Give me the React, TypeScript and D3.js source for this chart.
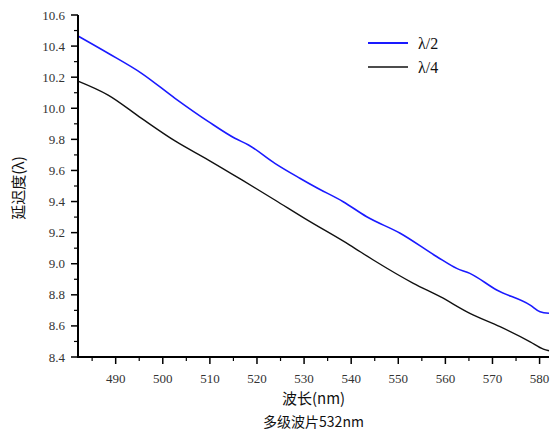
import React from "react";
import * as d3 from "d3";

const halfWaveX = [482, 488.4, 495.5, 502.6, 509.7, 515.3, 518.2, 523.8, 529.1, 532.3, 538.3, 543.3, 550.4, 558.2, 562.4, 565.2, 570.9, 578.0, 580.1, 582];
const halfWaveY = [10.465, 10.354, 10.225, 10.064, 9.914, 9.807, 9.764, 9.646, 9.55, 9.495, 9.399, 9.302, 9.196, 9.045, 8.97, 8.938, 8.831, 8.734, 8.691, 8.681];
const quarterWaveX = [482, 488.4, 495.5, 502.6, 509.7, 516.8, 523.8, 530.2, 539.7, 544.7, 553.2, 558.9, 565.2, 571.6, 578.0, 580.8, 582];
const quarterWaveY = [10.175, 10.085, 9.935, 9.79, 9.667, 9.539, 9.41, 9.29, 9.12, 9.024, 8.874, 8.788, 8.681, 8.595, 8.498, 8.451, 8.44];
const xTicks = [490, 500, 510, 520, 530, 540, 550, 560, 570, 580];
const yTicks = [8.4, 8.6, 8.8, 9.0, 9.2, 9.4, 9.6, 9.8, 10.0, 10.2, 10.4, 10.6];
const seriesNames = ["λ/2", "λ/4"];
const xTitle = "波长(nm)";
const subTitle = "多级波片532nm";
const yTitle = "延迟度(λ)";

export default function App() {
  const W = 550, H = 436;
  const left = 78, right = 549, top = 15, bottom = 357;
  const x = d3.scaleLinear().domain([482, 582]).range([left, right]);
  const y = d3.scaleLinear().domain([8.4, 10.6]).range([bottom, top]);
  const line = d3.line<[number, number]>().x(d => x(d[0])).y(d => y(d[1])).curve(d3.curveMonotoneX);
  const s1 = halfWaveX.map((v, i) => [v, halfWaveY[i]] as [number, number]);
  const s2 = quarterWaveX.map((v, i) => [v, quarterWaveY[i]] as [number, number]);
  const xMinor = d3.range(485, 582, 10);
  const yMinor = d3.range(8.5, 10.6, 0.2);
  const serif = "Liberation Serif, DejaVu Serif, Times New Roman, serif";
  const cjk = "Noto Sans CJK SC, sans-serif";
  return (
    <svg width={W} height={H} style={{ position: "absolute", left: 0, top: 0, background: "#fff" }}>
      <rect width={W} height={H} fill="#fff" />
      <path d={line(s1) || ""} fill="none" stroke="#1a1aff" strokeWidth={1.6} />
      <path d={line(s2) || ""} fill="none" stroke="#111" strokeWidth={1.4} />
      <line x1={left} x2={left} y1={top} y2={bottom + 0.5} stroke="#000" strokeWidth={2} />
      <line x1={left - 1} x2={right} y1={bottom} y2={bottom} stroke="#000" strokeWidth={2} />
      {yTicks.map(t => (
        <g key={"yt" + t}>
          <line x1={left - 7} x2={left} y1={y(t)} y2={y(t)} stroke="#000" strokeWidth={1.5} />
          <text x={left - 13} y={y(t)} dy="0.35em" textAnchor="end" fontSize={13} fontFamily={serif} fill="#333">
            {t.toFixed(1)}
          </text>
        </g>
      ))}
      {yMinor.map(t => (
        <line key={"ym" + t} x1={left - 4} x2={left} y1={y(t)} y2={y(t)} stroke="#000" strokeWidth={1.2} />
      ))}
      {xTicks.map(t => (
        <g key={"xt" + t}>
          <line x1={x(t)} x2={x(t)} y1={bottom} y2={bottom + 7} stroke="#000" strokeWidth={1.5} />
          <text x={x(t)} y={bottom + 21} dy="0.35em" textAnchor="middle" fontSize={13} fontFamily={serif} fill="#333">
            {t}
          </text>
        </g>
      ))}
      {xMinor.map(t => (
        <line key={"xm" + t} x1={x(t)} x2={x(t)} y1={bottom} y2={bottom + 4} stroke="#000" strokeWidth={1.2} />
      ))}
      <text x={(left + right) / 2} y={399} dy="0.35em" textAnchor="middle" fontSize={15} fontFamily={cjk} fill="#111">
        {xTitle}
      </text>
      <text x={(left + right) / 2} y={422} dy="0.35em" textAnchor="middle" fontSize={14} fontFamily={cjk} fill="#111">
        {subTitle}
      </text>
      <text transform={`translate(19,${(top + bottom) / 2 + 2}) rotate(-90)`} dy="0.35em" textAnchor="middle" fontSize={15} fontFamily={cjk} fill="#111">
        {yTitle}
      </text>
      {seriesNames.map((n, i) => (
        <g key={n}>
          <line x1={368} x2={408} y1={43 + i * 24} y2={43 + i * 24} stroke={i === 0 ? "#1a1aff" : "#111"} strokeWidth={i === 0 ? 2.2 : 1.6} />
          <text x={418} y={43 + i * 24} dy="0.35em" fontSize={16} fontFamily={serif} fill="#111">
            {n}
          </text>
        </g>
      ))}
    </svg>
  );
}
